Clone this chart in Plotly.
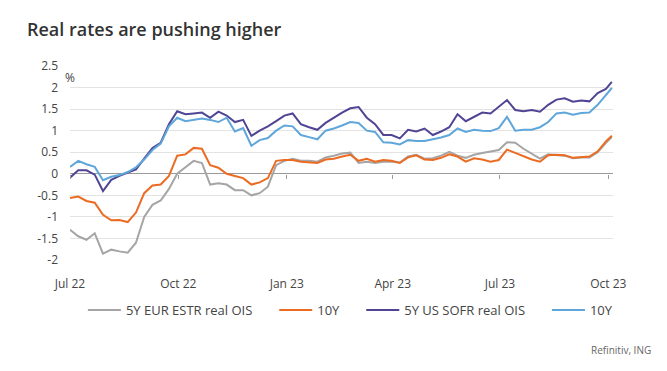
import pandas as pd
import plotly.graph_objects as go

# weekly observation dates (Fridays) plus final print
dates = list(pd.date_range("2022-07-01", periods=66, freq="7D").strftime("%Y-%m-%d")) + ["2023-10-04"]

eur_5y = [-1.30, -1.45, -1.53, -1.38, -1.85, -1.76, -1.80, -1.83, -1.60, -1.00,
          -0.72, -0.62, -0.35, 0.00, 0.15, 0.30, 0.25, -0.25, -0.22, -0.25,
          -0.38, -0.38, -0.50, -0.45, -0.30, 0.20, 0.30, 0.35, 0.30, 0.30,
          0.28, 0.38, 0.42, 0.47, 0.49, 0.25, 0.28, 0.25, 0.28, 0.28,
          0.26, 0.40, 0.44, 0.35, 0.36, 0.42, 0.51, 0.42, 0.37, 0.44,
          0.48, 0.51, 0.55, 0.73, 0.72, 0.58, 0.46, 0.35, 0.45, 0.44,
          0.42, 0.36, 0.38, 0.38, 0.50, 0.72, 0.85]
eur_10y = [-0.56, -0.53, -0.63, -0.67, -0.95, -1.08, -1.07, -1.12, -0.90, -0.45,
           -0.27, -0.25, -0.05, 0.42, 0.45, 0.60, 0.58, 0.20, 0.14, 0.00,
           -0.05, -0.10, -0.25, -0.20, -0.10, 0.30, 0.32, 0.32, 0.28, 0.26,
           0.25, 0.33, 0.35, 0.40, 0.44, 0.30, 0.35, 0.28, 0.32, 0.30,
           0.25, 0.38, 0.43, 0.33, 0.32, 0.37, 0.45, 0.40, 0.28, 0.36,
           0.33, 0.28, 0.32, 0.56, 0.48, 0.40, 0.33, 0.28, 0.43, 0.44,
           0.43, 0.37, 0.39, 0.40, 0.52, 0.75, 0.88]
us_5y = [-0.09, 0.08, 0.08, -0.02, -0.40, -0.14, -0.05, 0.02, 0.10, 0.35,
         0.60, 0.72, 1.15, 1.45, 1.38, 1.40, 1.42, 1.30, 1.44, 1.35,
         1.20, 1.25, 0.88, 1.00, 1.10, 1.22, 1.35, 1.40, 1.15, 1.08,
         1.02, 1.18, 1.30, 1.42, 1.52, 1.55, 1.30, 1.15, 0.90, 0.90,
         0.82, 1.02, 0.98, 1.05, 0.90, 0.98, 1.08, 1.38, 1.22, 1.32,
         1.42, 1.40, 1.55, 1.71, 1.48, 1.45, 1.48, 1.44, 1.60, 1.72,
         1.75, 1.67, 1.70, 1.68, 1.87, 1.97, 2.13]
us_10y = [0.16, 0.30, 0.22, 0.16, -0.15, -0.07, -0.03, 0.04, 0.15, 0.33,
          0.55, 0.70, 1.10, 1.30, 1.22, 1.25, 1.28, 1.25, 1.20, 1.30,
          0.98, 1.06, 0.65, 0.78, 0.83, 1.00, 1.12, 1.10, 0.90, 0.85,
          0.80, 1.00, 1.05, 1.12, 1.20, 1.18, 1.00, 0.97, 0.73, 0.72,
          0.68, 0.78, 0.76, 0.76, 0.80, 0.84, 0.90, 1.05, 0.97, 1.02,
          1.00, 0.99, 1.06, 1.32, 1.00, 1.02, 1.02, 1.08, 1.20, 1.40,
          1.42, 1.37, 1.41, 1.42, 1.60, 1.82, 1.99]

series_names = ["5Y EUR ESTR real OIS", "10Y", "5Y US SOFR real OIS", "10Y"]
series_vals = [eur_5y, eur_10y, us_5y, us_10y]
colors = ["#A5A5A5", "#EC6B22", "#4F4594", "#5FA6DA"]
y_ticks = [-2, -1.5, -1, -0.5, 0, 0.5, 1, 1.5, 2, 2.5]
y_labels = ["-2", "-1.5", "-1", "-0.5", "0", "0.5", "1", "1.5", "2", "2.5"]

FONT = "Open Sans"
PAD = "\u00a0" * 5
fig = go.Figure()
for i, (name, vals, col) in enumerate(zip(series_names, series_vals, colors)):
    label = name + (PAD if i < len(series_names) - 1 else "")
    fig.add_trace(go.Scatter(x=dates, y=vals, name=label, mode="lines",
                             line=dict(color=col, width=2)))

# invisible trace to carry the tick axis at zero
fig.add_trace(go.Scatter(x=dates, y=us_5y, xaxis="x2", mode="lines",
                         line=dict(width=0), opacity=0, showlegend=False, hoverinfo="skip"))

xr = ["2022-07-01", "2023-10-05"]
fig.update_layout(
    width=667, height=371,
    margin=dict(l=62, r=62, t=58, b=119, autoexpand=False),
    paper_bgcolor="white", plot_bgcolor="white",
    font=dict(family=FONT, color="#444", size=12),
    title=dict(text="Real rates are pushing higher", x=19 / 667, xref="container", xanchor="left",
               y=1 - 22 / 371, yanchor="middle", yref="container",
               font=dict(family=FONT, size=18, color="#333", weight=600)),
    xaxis=dict(type="date", range=xr, tickformat="%b %y", dtick="M3", tick0="2022-07-01",
               showgrid=False, zeroline=False, showline=False, ticks="",
               ticklabelstandoff=15, tickfont=dict(size=12, color="#444"), automargin=False),
    xaxis2=dict(type="date", range=xr, dtick="M3", tick0="2022-07-01", overlaying="x",
                anchor="free", position=0.4444, side="bottom", showticklabels=False,
                ticks="outside", ticklen=4, tickcolor="#9a9a9a", showgrid=False,
                zeroline=False, showline=False),
    yaxis=dict(range=[-2, 2.5], tickvals=y_ticks, ticktext=y_labels, showgrid=True,
               gridcolor="#e3e3e3", zeroline=True, zerolinecolor="#9a9a9a", zerolinewidth=1,
               ticks="", tickfont=dict(size=12, color="#444"), ticklabelstandoff=11,
               automargin=False),
    legend=dict(orientation="h", x=1.009, xanchor="right", y=-0.258, yanchor="middle",
                font=dict(size=13, color="#444"), itemwidth=33, bgcolor="rgba(0,0,0,0)"),
    showlegend=True,
)
fig.add_annotation(text="%", xref="paper", yref="paper", x=-0.013, y=0.943,
                   xanchor="left", yanchor="middle", showarrow=False,
                   font=dict(size=12, color="#444"))
fig.add_annotation(text="Refinitiv, ING", xref="paper", yref="paper", x=1.074, y=-0.464,
                   xanchor="right", yanchor="middle", showarrow=False,
                   font=dict(size=10, color="#666"))
fig.write_html("out.html")
